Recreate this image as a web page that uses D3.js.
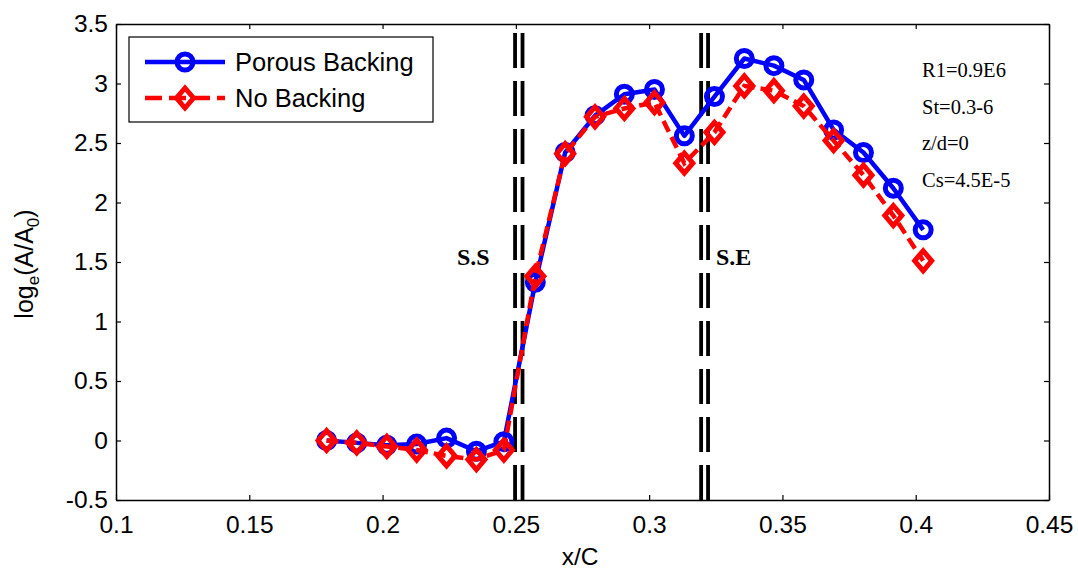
<!DOCTYPE html>
<html>
<head>
<meta charset="utf-8">
<script src="https://cdn.jsdelivr.net/npm/d3@7"></script>
<style>
  html, body { margin: 0; padding: 0; background: #fff; }
  svg { display: block; }
</style>
</head>
<body>
<svg id="chart" width="1078" height="569"></svg>
<script>
// ---- data ----
const xPos = [0.179, 0.1903, 0.2016, 0.2128, 0.224, 0.2352, 0.2455, 0.2573, 0.2685, 0.2797, 0.2907, 0.302, 0.3132, 0.3245, 0.3357, 0.3468, 0.358, 0.3692, 0.3804, 0.3916, 0.4028];
const porous = [0.0, -0.02, -0.04, -0.03, 0.02, -0.09, -0.01, 1.33, 2.42, 2.73, 2.91, 2.95, 2.56, 2.89, 3.21, 3.15, 3.03, 2.61, 2.42, 2.12, 1.77];
const noBacking = [0.0, -0.02, -0.05, -0.08, -0.13, -0.16, -0.08, 1.38, 2.41, 2.72, 2.79, 2.84, 2.33, 2.59, 2.98, 2.94, 2.81, 2.52, 2.23, 1.89, 1.51];
const xTicks = [0.1, 0.15, 0.2, 0.25, 0.3, 0.35, 0.4, 0.45];
const xTickLabels = ["0.1", "0.15", "0.2", "0.25", "0.3", "0.35", "0.4", "0.45"];
const yTicks = [-0.5, 0, 0.5, 1, 1.5, 2, 2.5, 3, 3.5];
const yTickLabels = ["-0.5", "0", "0.5", "1", "1.5", "2", "2.5", "3", "3.5"];
const ssLines = [0.2497, 0.2525];
const seLines = [0.3195, 0.3221];
const seriesNames = ["Porous Backing", "No Backing"];
const notes = ["R1=0.9E6", "St=0.3-6", "z/d=0", "Cs=4.5E-5"];

// ---- layout ----
const W = 1078, H = 569;
const m = { left: 116, top: 24, right: 29, bottom: 69 };
const svg = d3.select("#chart");
const x = d3.scaleLinear().domain([0.1, 0.45]).range([m.left, W - m.right]);
const y = d3.scaleLinear().domain([-0.5, 3.5]).range([H - m.bottom, m.top]);
const FONT = "'Liberation Sans', Arial, sans-serif";
const SERIF = "'Liberation Serif', 'Times New Roman', serif";
const BLUE = "#0000ff", RED = "#ff0000";

// ---- axes ----
function styleAxis(g) {
  g.selectAll("path.domain").attr("stroke", "#000").attr("stroke-width", 1.5);
  g.selectAll(".tick line").attr("stroke", "#000").attr("stroke-width", 1.2);
  g.selectAll("text").attr("font-family", FONT).attr("font-size", 24.5).attr("fill", "#000");
}
svg.append("g").attr("transform", `translate(0,${H - m.bottom})`)
  .call(d3.axisBottom(x).tickValues(xTicks).tickFormat((d, i) => xTickLabels[i]).tickSizeInner(-5).tickSizeOuter(0).tickPadding(16))
  .call(styleAxis);
svg.append("g").attr("transform", `translate(0,${m.top})`)
  .call(d3.axisTop(x).tickValues(xTicks).tickFormat("").tickSizeInner(-5).tickSizeOuter(0))
  .call(styleAxis);
svg.append("g").attr("transform", `translate(${m.left},0)`)
  .call(d3.axisLeft(y).tickValues(yTicks).tickFormat((d, i) => yTickLabels[i]).tickSizeInner(-5).tickSizeOuter(0).tickPadding(8))
  .call(styleAxis);
svg.append("g").attr("transform", `translate(${W - m.right},0)`)
  .call(d3.axisRight(y).tickValues(yTicks).tickFormat("").tickSizeInner(-5).tickSizeOuter(0))
  .call(styleAxis);

// ---- vertical separation lines ----
const vlines = ssLines.concat(seLines);
svg.append("g").selectAll("line").data(vlines).join("line")
  .attr("x1", d => x(d)).attr("x2", d => x(d))
  .attr("y1", y(-0.5)).attr("y2", y(3.5))
  .attr("stroke", "#000").attr("stroke-width", 3.8)
  .attr("stroke-dasharray", "35,13");

// ---- series ----
const pts = (vals) => xPos.map((xv, i) => [xv, vals[i]]);
const line = d3.line().x(d => x(d[0])).y(d => y(d[1]));
const diamond = (cx, cy, hw, hh) => `M${cx},${cy - hh}L${cx + hw},${cy}L${cx},${cy + hh}L${cx - hw},${cy}Z`;

// porous (blue)
svg.append("path").datum(pts(porous)).attr("d", line)
  .attr("fill", "none").attr("stroke", BLUE).attr("stroke-width", 4.5).attr("stroke-linejoin", "round");
svg.append("g").selectAll("circle").data(pts(porous)).join("circle")
  .attr("cx", d => x(d[0])).attr("cy", d => y(d[1])).attr("r", 8)
  .attr("fill", "none").attr("stroke", BLUE).attr("stroke-width", 5);

// no backing (red)
svg.append("path").datum(pts(noBacking)).attr("d", line)
  .attr("fill", "none").attr("stroke", RED).attr("stroke-width", 4.5).attr("stroke-dasharray", "12,6");
svg.append("g").selectAll("path").data(pts(noBacking)).join("path")
  .attr("d", d => diamond(x(d[0]), y(d[1]), 8.5, 10))
  .attr("fill", "none").attr("stroke", RED).attr("stroke-width", 5).attr("stroke-linejoin", "miter");

// ---- annotations ----
svg.append("g").selectAll("text").data(notes).join("text")
  .attr("x", 922).attr("y", (d, i) => 77 + i * 36.7)
  .attr("font-family", SERIF).attr("font-size", 20.5).attr("fill", "#000")
  .text(d => d);
svg.append("text").attr("x", 457).attr("y", 265)
  .attr("font-family", SERIF).attr("font-weight", "bold").attr("font-size", 24).text("S.S");
svg.append("text").attr("x", 716).attr("y", 265)
  .attr("font-family", SERIF).attr("font-weight", "bold").attr("font-size", 24).text("S.E");

// ---- legend ----
const lg = svg.append("g");
lg.append("rect").attr("x", 129).attr("y", 37).attr("width", 304).attr("height", 85)
  .attr("fill", "#fff").attr("stroke", "#000").attr("stroke-width", 1.2);
const ly = [62, 98];
lg.append("line").attr("x1", 145).attr("x2", 225).attr("y1", ly[0]).attr("y2", ly[0])
  .attr("stroke", BLUE).attr("stroke-width", 4.5);
lg.append("circle").attr("cx", 185).attr("cy", ly[0]).attr("r", 8)
  .attr("fill", "none").attr("stroke", BLUE).attr("stroke-width", 5);
lg.append("line").attr("x1", 145).attr("x2", 225).attr("y1", ly[1]).attr("y2", ly[1])
  .attr("stroke", RED).attr("stroke-width", 4.5).attr("stroke-dasharray", "17,7");
lg.append("path").attr("d", diamond(185, ly[1], 8.5, 10))
  .attr("fill", "none").attr("stroke", RED).attr("stroke-width", 5);
lg.selectAll("text.lt").data(seriesNames).join("text").attr("class", "lt")
  .attr("x", 235).attr("y", (d, i) => ly[i]).attr("dy", "0.35em")
  .attr("font-family", FONT).attr("font-size", 25.5).attr("fill", "#000")
  .text(d => d);

// ---- axis titles ----
svg.append("text").attr("x", 580).attr("y", 565).attr("text-anchor", "middle")
  .attr("font-family", FONT).attr("font-size", 24.5).text("x/C");
const yl = svg.append("text").attr("transform", "translate(33,264) rotate(-90)")
  .attr("text-anchor", "middle").attr("font-family", FONT).attr("font-size", 25);
yl.append("tspan").text("log");
yl.append("tspan").attr("font-size", 17).attr("dy", 6).text("e");
yl.append("tspan").attr("dy", -6).text("(A/A");
yl.append("tspan").attr("font-size", 17).attr("dy", 6).text("0");
yl.append("tspan").attr("dy", -6).text(")");
</script>
</body>
</html>
